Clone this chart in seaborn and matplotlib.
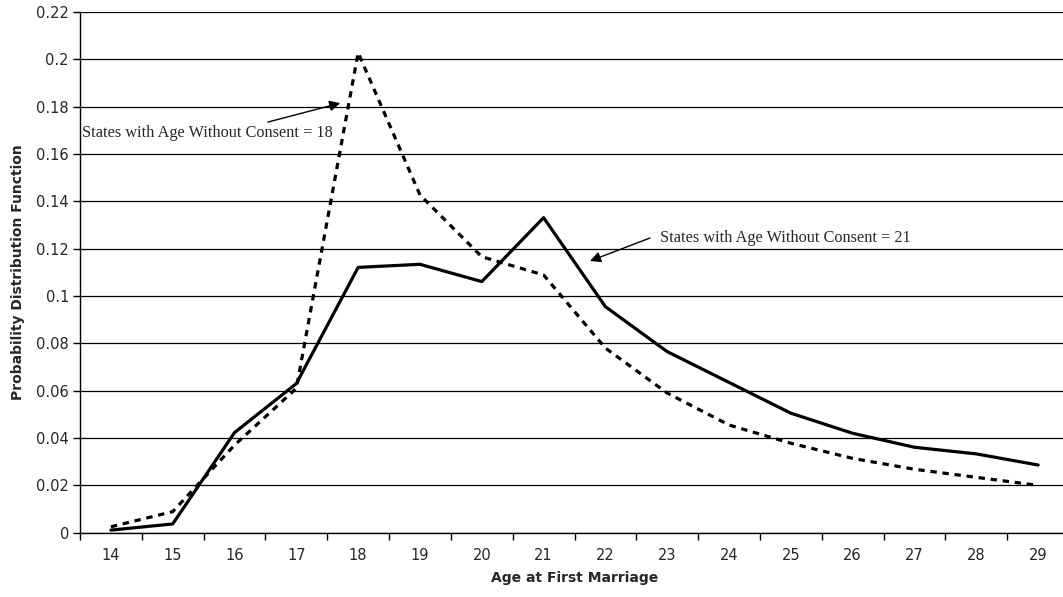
import pandas as pd
import matplotlib
matplotlib.use("Agg")
import matplotlib.pyplot as plt
import seaborn as sns
from matplotlib.ticker import FixedLocator

# ages on the category axis
ages = list(range(14, 30))

# states where age without consent = 21 (solid)
pdf_21 = [0.0011, 0.0037, 0.0423, 0.0630, 0.1121, 0.1134, 0.1061, 0.1331,
          0.0955, 0.0765, 0.0635, 0.0505, 0.0420, 0.0361, 0.0333, 0.0286]

# states where age without consent = 18 (dashed)
pdf_18 = [0.0025, 0.0089, 0.0370, 0.0610, 0.2028, 0.1427, 0.1166, 0.1089,
          0.0780, 0.0590, 0.0455, 0.0378, 0.0314, 0.0268, 0.0234, 0.0200]

df = pd.DataFrame({"age": ages, "s21": pdf_21, "s18": pdf_18})

sns.set_style("white")
plt.rcParams['font.family'] = ['DejaVu Sans']

fig = plt.figure(figsize=(10.63, 5.97), dpi=100)
ax = fig.add_axes([80 / 1063, 64.3 / 597, 989 / 1063, 520.7 / 597])

sns.lineplot(data=df, x="age", y="s21", ax=ax, color="black", linewidth=2.3)
sns.lineplot(data=df, x="age", y="s18", ax=ax, color="black", linewidth=2.3)
ax.lines[-1].set_dashes((2.0, 1.8))

ax.set_xlim(13.5, 29.5)
ax.set_ylim(0, 0.22)

# horizontal gridlines
ax.set_yticks([i * 0.02 for i in range(12)])
ax.set_yticklabels(["0"] + [f"{i * 0.02:g}" for i in range(1, 12)])
ax.yaxis.grid(True, color="black", linewidth=0.9)
ax.xaxis.grid(False)
ax.set_axisbelow(True)

ax.set_xticks(ages)
ax.set_xticklabels([str(a) for a in ages])
ax.xaxis.set_minor_locator(FixedLocator([a - 0.5 for a in ages] + [29.5]))
ax.tick_params(axis="x", which="major", length=0, pad=11, labelsize=10.5)
ax.tick_params(axis="x", which="minor", length=5, width=1, color="black",
               direction="out", bottom=True)
ax.tick_params(axis="y", which="major", length=5, width=1, color="black",
               direction="out", left=True, labelsize=10.5, pad=3)

for side in ["top", "right"]:
    ax.spines[side].set_visible(False)
for side in ["left", "bottom"]:
    ax.spines[side].set_color("black")
    ax.spines[side].set_linewidth(1)

ax.set_xlabel("Age at First Marriage", fontsize=10, fontweight="bold", labelpad=6)
ax.set_ylabel("Probability Distribution Function", fontsize=10,
              fontweight="bold", labelpad=8)

arrow = dict(arrowstyle="-|>", color="black", lw=1, mutation_scale=16,
             shrinkA=0, shrinkB=0)

# annotations
ax.text(13.53, 0.1690, "States with Age Without Consent = 18", fontsize=11.7,
        family="Liberation Serif", ha="left", va="center")
ax.annotate("", xy=(17.71, 0.1815), xytext=(16.54, 0.1735), arrowprops=arrow)

ax.text(22.88, 0.1245, "States with Age Without Consent = 21", fontsize=11.7,
        family="Liberation Serif", ha="left", va="center")
ax.annotate("", xy=(21.75, 0.1148), xytext=(22.72, 0.1245), arrowprops=arrow)

fig.savefig("out.png", dpi=100)
